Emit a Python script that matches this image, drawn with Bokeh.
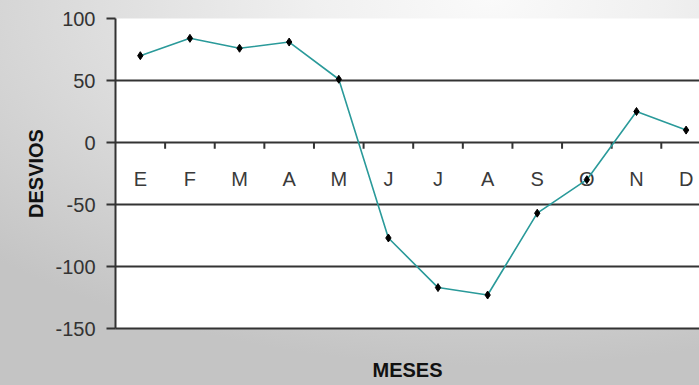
from bokeh.plotting import figure
from bokeh.models import Range1d, FixedTicker, ColumnDataSource, PrintfTickFormatter
from bokeh.core.properties import value
from bokeh.embed import file_html
from bokeh.resources import INLINE

# Monthly deviations
meses = ["E", "F", "M", "A", "M", "J", "J", "A", "S", "O", "N", "D"]
desvios = [70, 84, 76, 81, 51, -77, -117, -123, -57, -30, 25, 10]
y_ticks = [-150, -100, -50, 0, 50, 100]

FONT = "Liberation Sans"
DARK = "#333333"

xc = [i + 0.5 for i in range(len(meses))]
src = ColumnDataSource(dict(x=xc, y=desvios, mes=meses, zero=[0] * len(meses)))
bounds = ColumnDataSource(dict(x=list(range(1, len(meses))),
                               y0=[0] * (len(meses) - 1),
                               y1=[-5] * (len(meses) - 1)))

W, H = 699, 385
p = figure(width=W, height=H, output_backend="svg", toolbar_location=None,
           x_range=Range1d(0, 11.77), y_range=Range1d(-150, 100),
           min_border_left=115, min_border_right=0, min_border_top=18,
           min_border_bottom=57)
p.border_fill_color = None
p.background_fill_color = "white"
p.outline_line_color = None
p.styles = {"background": "radial-gradient(ellipse 100% 95% at 70% 0%, #fafafa 0%, #f0f0f0 25%, #c4c4c4 100%)"}

# y axis
yax = p.yaxis[0]
yax.ticker = FixedTicker(ticks=y_ticks)
yax.formatter = PrintfTickFormatter(format="%d")
yax.minor_tick_line_color = None
yax.major_tick_in = 0
yax.major_tick_out = 9
yax.major_tick_line_color = DARK
yax.major_tick_line_width = 2
yax.axis_line_color = DARK
yax.axis_line_width = 2
yax.major_label_text_font = FONT
yax.major_label_text_font_size = "20px"
yax.major_label_text_color = DARK
yax.major_label_standoff = 11
yax.axis_label = "DESVIOS"
yax.axis_label_text_font = FONT
yax.axis_label_text_font_size = "20px"
yax.axis_label_text_font_style = "bold"
yax.axis_label_text_color = "#111111"
yax.axis_label_standoff = 5

# x axis: only the line and the title
xax = p.xaxis[0]
xax.ticker = FixedTicker(ticks=[])
xax.major_tick_line_color = None
xax.minor_tick_line_color = None
xax.major_label_text_font_size = "0px"
xax.axis_line_color = DARK
xax.axis_line_width = 2
xax.axis_label = "MESES"
xax.axis_label_text_font = FONT
xax.axis_label_text_font_size = "20px"
xax.axis_label_text_font_style = "bold"
xax.axis_label_text_color = "#111111"
xax.axis_label_standoff = 30

p.xgrid.grid_line_color = None
p.ygrid.ticker = FixedTicker(ticks=y_ticks)
p.ygrid.grid_line_color = DARK
p.ygrid.grid_line_width = 2
p.ygrid.grid_line_alpha = 1

# category ticks hanging from the zero line
p.segment(x0="x", y0="y0", x1="x", y1="y1", source=bounds,
          line_color=DARK, line_width=2)

# month labels sitting under the zero line
p.text(x="x", y="zero", text="mes", source=src, y_offset=36,
       text_font=value(FONT), text_font_size="20px", text_color="#3a3a3a",
       text_align="center", text_baseline="middle")

p.line(x="x", y="y", source=src, line_color="#2a9a9a", line_width=1.6)
p.scatter(x="x", y="y", source=src, marker="diamond", size=8,
          fill_color="black", line_color="black")

open("out.html", "w").write(file_html(p, INLINE))
